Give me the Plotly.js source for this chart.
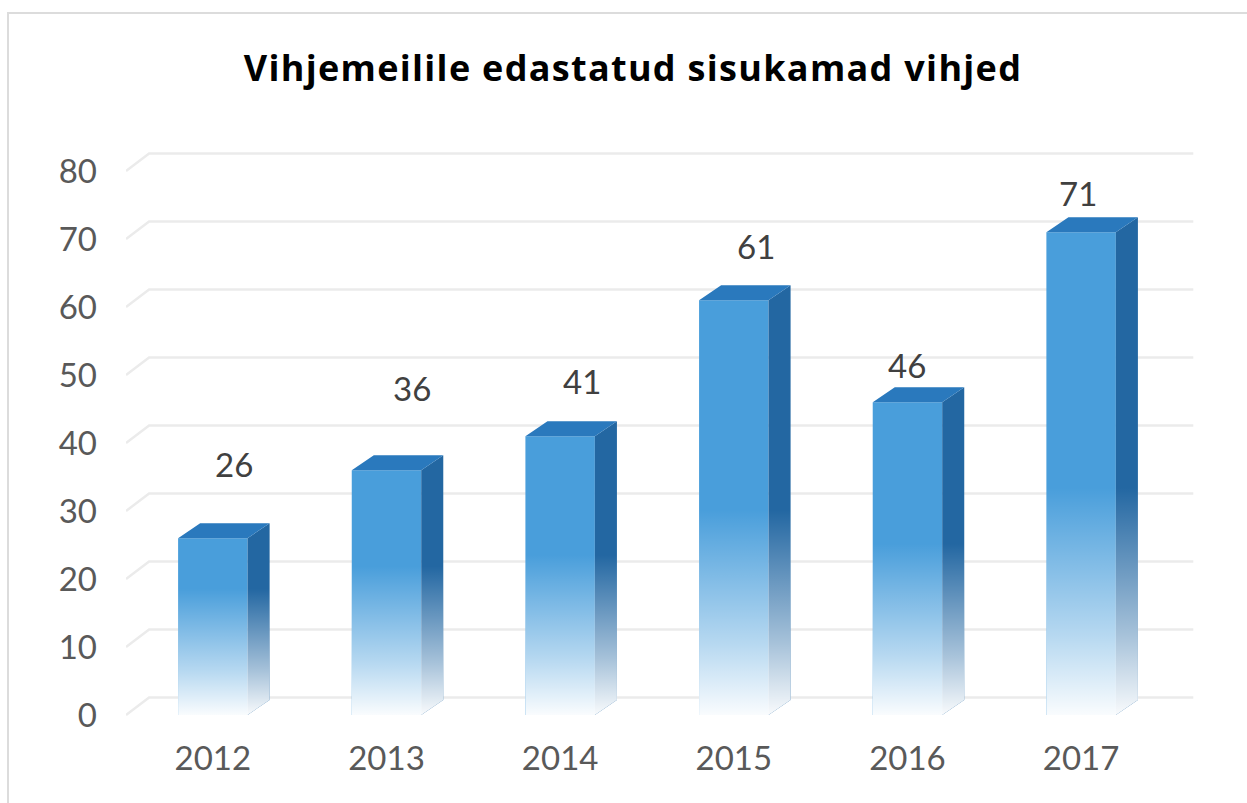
<!DOCTYPE html>
<html>
<head>
<meta charset="utf-8">
<script src="https://cdn.plot.ly/plotly-3.0.1.min.js"></script>
<style>
  html, body { margin: 0; padding: 0; background: #ffffff; }
  #wrap { position: relative; width: 1247px; height: 803px; overflow: hidden; }
  #chart { position: absolute; left: 0; top: 0; width: 1247px; height: 803px; }
  #frame { position: absolute; left: 7px; top: 12px; width: 1260px; height: 820px;
           border-left: 2px solid #dcdcdc; border-top: 2px solid #dcdcdc; pointer-events: none; }
  .gtitle { letter-spacing: 1.3px; }
</style>
</head>
<body>
<div id="wrap"><div id="chart"></div><div id="frame"></div></div>
<script>
// ---- data ----
const years = ["2012", "2013", "2014", "2015", "2016", "2017"];
const values = [26, 36, 41, 61, 46, 71];
const yTicks = [0, 10, 20, 30, 40, 50, 60, 70, 80];
const titleText = "Vihjemeilile edastatud sisukamad vihjed";

// ---- style / geometry (not data) ----
const pxPerUnit = 6.8;
const barW = 0.4;          // front face width (category units)
const depthX = 0.127;      // 3D depth in x (category units)
const depthY = 15 / pxPerUnit;   // 3D depth in y for bar top
const wallDY = 17.5 / pxPerUnit; // back wall offset for grid lines
const wallDX = 0.133;
const gridRight = 5.646;
const labelNudgeX = [21, 26, 22, 22, 0, -3];
const labelNudgeY = [74, 82, 55, 54, 37, 39];

const xIdx = years.map((_, i) => i);

// Grid lines on back wall as shapes (drawn below traces)
const shapes = yTicks.map(v => ({
  type: 'path', xref: 'x', yref: 'y', layer: 'below',
  path: `M -0.5,${v} L ${-0.5 + wallDX},${v + wallDY} L ${gridRight},${v + wallDY}`,
  line: { color: '#ebebeb', width: 2.5 }
}));

// Front faces: bar trace
const traces = [{
  type: 'bar', x: xIdx, y: values, width: barW,
  marker: { color: '#499edb', line: { width: 0 } },
  hoverinfo: 'skip'
}];

// Side faces and top faces
const sideX = [], sideY = [], topX = [], topY = [];
values.forEach((v, i) => {
  const xl = i - barW / 2, xr = i + barW / 2;
  sideX.push(xr, xr + depthX, xr + depthX, xr, xr, null);
  sideY.push(v, v + depthY, depthY, 0, v, null);
  topX.push(xl, xl + depthX, xr + depthX, xr, xl, null);
  topY.push(v, v + depthY, v + depthY, v, v, null);
});
traces.push({
  type: 'scatter', mode: 'lines', x: sideX, y: sideY, fill: 'toself',
  fillcolor: '#2367a2', line: { width: 0, color: 'rgba(0,0,0,0)' }, hoverinfo: 'skip'
});
traces.push({
  type: 'scatter', mode: 'lines', x: topX, y: topY, fill: 'toself',
  fillcolor: '#2a79bd', line: { width: 0, color: 'rgba(0,0,0,0)' }, hoverinfo: 'skip'
});

// Fade-to-white overlay at the bottom of each bar
values.forEach((v, i) => {
  const xl = i - barW / 2, xr = i + barW / 2;
  const s = 10 + 0.33 * v;
  traces.push({
    type: 'scatter', mode: 'lines',
    x: [xl, xl, xr + depthX, xr + depthX, xr, xl],
    y: [0, s, s, depthY, 0, 0],
    fill: 'toself', line: { width: 0, color: 'rgba(0,0,0,0)' }, hoverinfo: 'skip',
    fillcolor: 'rgba(255,255,255,0.5)',
    fillgradient: {
      type: 'vertical', start: 0, stop: s,
      colorscale: [[0, 'rgba(255,255,255,0.97)'], [0.35, 'rgba(255,255,255,0.6)'], [1, 'rgba(255,255,255,0)']]
    }
  });
});

// Value labels
const annotations = values.map((v, i) => ({
  x: i, y: v, xref: 'x', yref: 'y', text: String(v), showarrow: false,
  xshift: labelNudgeX[i], yshift: labelNudgeY[i], yanchor: 'middle', xanchor: 'center',
  font: { family: 'Lato, sans-serif', size: 33, color: '#404040' }
}));

const layout = {
  width: 1247, height: 803,
  margin: { l: 126, r: 53, t: 140, b: 73 },
  paper_bgcolor: '#ffffff', plot_bgcolor: 'rgba(0,0,0,0)',
  showlegend: false,
  title: {
    text: '<b>' + titleText + '</b>',
    font: { family: 'Open Sans, sans-serif', size: 36, color: '#000000' },
    x: 633 / 1247, xref: 'container', xanchor: 'center',
    y: 1 - 68 / 803, yref: 'container', yanchor: 'middle'
  },
  xaxis: {
    range: [-0.5, 5.65], tickvals: xIdx, ticktext: years,
    showgrid: false, zeroline: false, showline: false, ticks: '',
    tickfont: { family: 'Lato, sans-serif', size: 33, color: '#595959' },
    ticklabelstandoff: 6, fixedrange: true
  },
  yaxis: {
    range: [-15 / pxPerUnit, (715 - 140) / pxPerUnit],
    tickvals: yTicks, ticktext: yTicks.map(String),
    showgrid: false, zeroline: false, showline: false, ticks: '',
    tickfont: { family: 'Lato, sans-serif', size: 33, color: '#595959' },
    ticklabelstandoff: 28, fixedrange: true
  },
  shapes: shapes,
  annotations: annotations
};

Plotly.newPlot('chart', traces, layout, { displayModeBar: false, staticPlot: true });
</script>
</body>
</html>
